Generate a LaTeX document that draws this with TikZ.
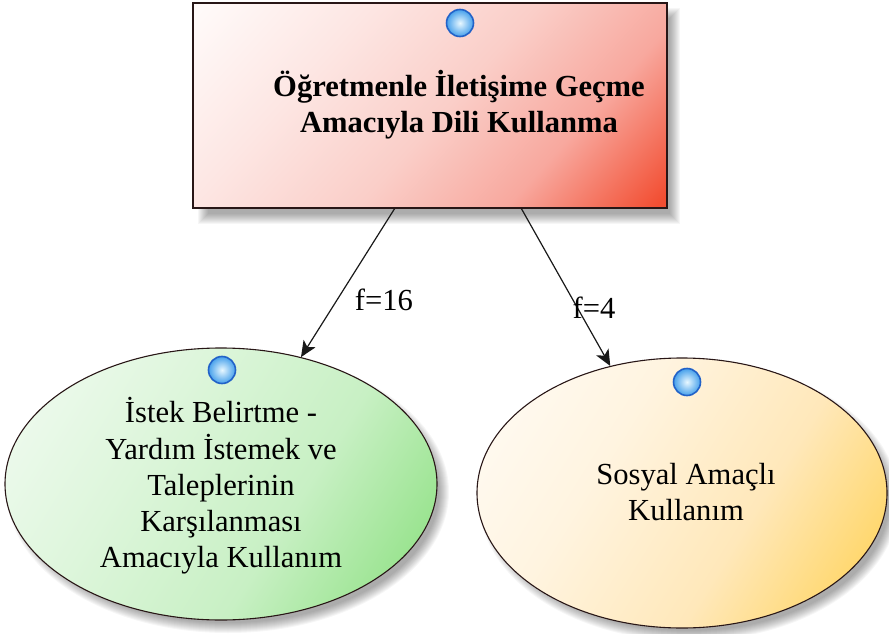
\documentclass[tikz,border=0pt]{standalone}
\usepackage{fontspec}
\setmainfont{Liberation Serif}
\usetikzlibrary{arrows.meta,shapes.geometric,calc}

% fills
\definecolor{boxwhite}{RGB}{255,250,249}
\definecolor{boxpale}{RGB}{253,230,227}
\definecolor{boxmid}{RGB}{250,206,200}
\definecolor{boxrose}{RGB}{248,168,158}
\definecolor{boxdark}{RGB}{242,78,50}
\definecolor{greenwhite}{RGB}{240,251,240}
\definecolor{greenpale}{RGB}{222,246,220}
\definecolor{greenmid}{RGB}{200,240,196}
\definecolor{greendark}{RGB}{140,224,128}
\definecolor{goldwhite}{RGB}{255,251,244}
\definecolor{goldpale}{RGB}{255,244,224}
\definecolor{goldmid}{RGB}{255,232,186}
\definecolor{golddark}{RGB}{255,210,86}
\definecolor{edge}{RGB}{40,22,22}
\definecolor{bulbrim}{RGB}{34,98,200}
\definecolor{bulbcore}{RGB}{232,248,255}
\definecolor{bulbouter}{RGB}{70,160,235}

% diagonal fills: 0bp is the dark corner, 100bp the light one
\pgfdeclareverticalshading{boxfill}{100bp}{
  color(0bp)=(boxdark); color(16bp)=(boxdark); color(32bp)=(boxrose);
  color(48bp)=(boxmid); color(66bp)=(boxpale); color(84bp)=(boxwhite);
  color(100bp)=(boxwhite)}
\pgfdeclareverticalshading{greenfill}{100bp}{
  color(0bp)=(greendark); color(18bp)=(greendark); color(40bp)=(greenmid);
  color(62bp)=(greenpale); color(82bp)=(greenwhite); color(100bp)=(greenwhite)}
\pgfdeclareverticalshading{goldfill}{100bp}{
  color(0bp)=(golddark); color(18bp)=(golddark); color(40bp)=(goldmid);
  color(62bp)=(goldpale); color(82bp)=(goldwhite); color(100bp)=(goldwhite)}

\newcommand{\labelfont}{\fontsize{30.6pt}{36.3pt}\selectfont}

\tikzset{
  mainbox/.style={draw=edge, line width=1.6pt, rectangle, inner sep=0pt,
    minimum width=474pt, minimum height=205pt,
    shading=boxfill, shading angle=48},
  greenoval/.style={ellipse, draw=edge, line width=1.1pt, inner sep=0pt,
    minimum width=432pt, minimum height=272pt,
    shading=greenfill, shading angle=58},
  goldoval/.style={ellipse, draw=edge, line width=1.1pt, inner sep=0pt,
    minimum width=410pt, minimum height=270pt,
    shading=goldfill, shading angle=58},
  bulb/.style={circle, draw=bulbrim, line width=1.6pt, inner sep=0pt,
    minimum size=27pt, inner color=bulbcore, outer color=bulbouter},
  caption/.style={align=center, inner sep=0pt, text=black, font=\labelfont},
  link/.style={draw=black!90, line width=1.2pt,
    -{Stealth[length=16pt,width=14pt,inset=4pt]}},
  softshade/.style={fill=black, opacity=0.035},
}

\begin{document}
\begin{tikzpicture}[x=1pt,y=-1pt]
\useasboundingbox (0,0) rectangle (889,634);

% soft shadows beneath the shapes
\foreach \k in {-5,...,5} {
  \fill[softshade] (203-\k,13-\k) rectangle (675+\k,219+\k);
  \fill[softshade] (228,492) ellipse ({216+\k} and {136+\k});
  \fill[softshade] (689,501) ellipse ({205+\k} and {135+\k});
}

% shapes
\node[mainbox] (top) at (430,105.5) {};
\node[greenoval] (green) at (221,484) {};
\node[goldoval] (gold) at (682,493) {};

% texts
\node[caption, font=\labelfont\bfseries] (toptext) at (459,105)
  {Öğretmenle İletişime Geçme\\Amacıyla Dili Kullanma};
\node[caption] (greentext) at (221,486)
  {İstek Belirtme -\\Yardım İstemek ve\\Taleplerinin\\Karşılanması\\Amacıyla Kullanım};
\node[caption] (goldtext) at (686,492) {Sosyal Amaçlı\\Kullanım};

% marker bulbs
\node[bulb] (bulbtop) at (460,23) {};
\node[bulb] (bulbgreen) at (222,370) {};
\node[bulb] (bulbgold) at (687,382) {};

% connectors
\coordinate (s1) at ([xshift=-35.5pt]top.south);
\coordinate (s2) at ([xshift=91.5pt]top.south);
\draw[link] (s1) -- (green);
\draw[link] (s2) -- (gold);

% connector labels
\node[caption] (f16) at (384,300) {f=16};
\node[caption] (f4) at (594,308) {f=4};
\end{tikzpicture}
\end{document}
